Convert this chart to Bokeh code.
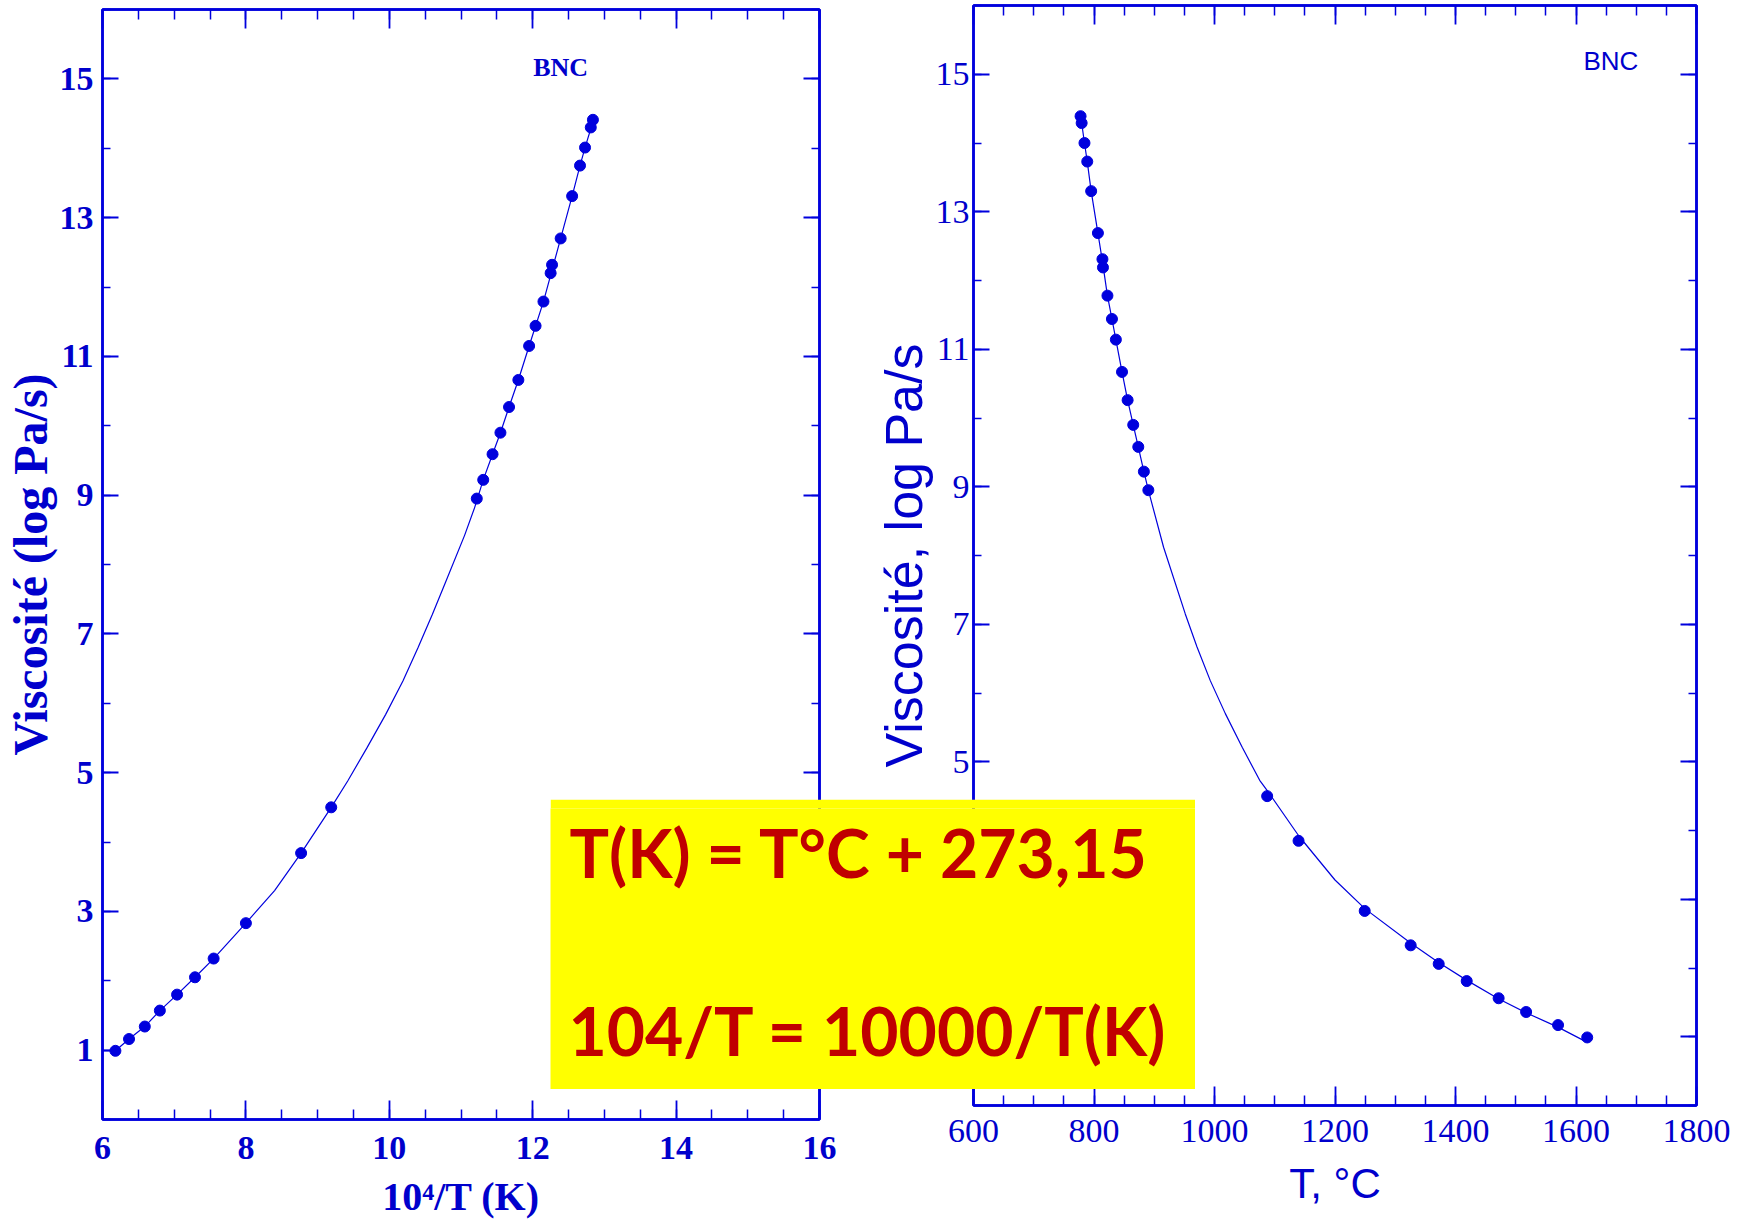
from bokeh.plotting import figure
from bokeh.models import Range1d, LinearAxis, FixedTicker, Label
from bokeh.layouts import row
from bokeh.embed import file_html
from bokeh.resources import INLINE

# ---------------- data ----------------
# left panel: 10^4/T (K) vs log viscosity
inv_t = [6.18, 6.37, 6.59, 6.80, 7.04, 7.29, 7.55, 8.00, 8.77, 9.19,
         11.22, 11.31, 11.44, 11.55, 11.67, 11.80, 11.95, 12.04, 12.15,
         12.25, 12.27, 12.39, 12.55, 12.66, 12.73, 12.81, 12.84]
visc_left = [0.99, 1.16, 1.34, 1.57, 1.80, 2.05, 2.32, 2.83, 3.84, 4.50,
             8.95, 9.22, 9.59, 9.90, 10.27, 10.66, 11.15, 11.44, 11.79,
             12.20, 12.32, 12.70, 13.31, 13.75, 14.01, 14.30, 14.41]
fit_inv_t = [6.18, 6.37, 6.59, 6.80, 7.04, 7.29, 7.55, 8.00, 8.40, 8.77,
             9.19, 9.42, 9.69, 9.95, 10.19, 10.40, 10.60, 10.79, 11.05,
             11.19, 11.31, 11.44, 11.55, 11.67, 11.80, 11.95, 12.15, 12.39,
             12.55, 12.66, 12.73, 12.86]
fit_visc_left = [0.99, 1.16, 1.34, 1.57, 1.80, 2.05, 2.32, 2.83, 3.30, 3.84,
                 4.50, 4.88, 5.36, 5.84, 6.32, 6.80, 7.28, 7.76, 8.42,
                 8.82, 9.22, 9.59, 9.90, 10.27, 10.66, 11.15, 11.79, 12.70,
                 13.31, 13.75, 14.01, 14.45]

# right panel: T, °C vs log viscosity
temp_c = [777.7, 779.5, 784.2, 788.8, 795.3, 806.5, 814.0, 814.9, 822.3,
          829.8, 836.3, 846.5, 855.8, 865.1, 873.5, 882.8, 890.2, 1087.4,
          1139.5, 1249.3, 1325.6, 1372.1, 1418.6, 1471.6, 1517.2, 1570.2, 1618.6]
visc_right = [14.39, 14.29, 14.00, 13.73, 13.30, 12.69, 12.31, 12.19, 11.78,
              11.44, 11.14, 10.67, 10.26, 9.90, 9.58, 9.22, 8.95, 4.50,
              3.85, 2.83, 2.33, 2.06, 1.81, 1.56, 1.36, 1.17, 0.99]
fit_temp_c = [777.0, 784.2, 788.8, 795.3, 806.5, 814.5, 822.3, 829.8, 836.3,
              846.5, 855.8, 865.1, 873.5, 882.8, 890.2, 915.5, 951.5, 971.0,
              993.0, 1018.0, 1046.0, 1075.0, 1090.0, 1140.0, 1200.0, 1250.0,
              1326.0, 1372.0, 1419.0, 1472.0, 1517.0, 1570.0, 1614.0]
fit_visc_right = [14.45, 14.00, 13.73, 13.30, 12.69, 12.25, 11.78, 11.44, 11.14,
                  10.67, 10.26, 9.90, 9.58, 9.22, 8.95, 8.12, 7.15, 6.67,
                  6.18, 5.70, 5.21, 4.73, 4.55, 3.92, 3.28, 2.86,
                  2.36, 2.08, 1.82, 1.55, 1.35, 1.14, 0.94]

left_x_ticks = [6, 8, 10, 12, 14, 16]
left_x_minor = [6 + 0.5 * i for i in range(21)]
y_ticks = [1, 3, 5, 7, 9, 11, 13, 15]
y_minor = list(range(0, 17))
right_x_ticks = [600, 800, 1000, 1200, 1400, 1600, 1800]
right_x_minor = list(range(600, 1801, 50))

formula_1 = "T(K) = T°C + 273,15"
formula_2 = "104/T = 10000/T(K)"

# ---------------- styling ----------------
BLUE = "#0000dd"
TXT = "#0000cc"
RED = "#c00000"
SERIF = "Liberation Serif"
SANS = "Liberation Sans"
H = 1225
TOP_B, BOTTOM_B = 9, 106   # shared top / bottom borders (Bokeh aligns them in a row)


def style_axis(ax, vertical_ticks, font, bold, tick_size, show=True):
    ax.axis_line_color = BLUE
    ax.axis_line_width = 2.5
    ax.major_tick_line_color = BLUE
    ax.minor_tick_line_color = BLUE
    ax.major_tick_line_width = 1.8
    ax.minor_tick_line_width = 1.5
    ax.major_tick_out = 0
    ax.minor_tick_out = 0
    ax.major_tick_in = 19 if vertical_ticks else 16
    ax.minor_tick_in = 10 if vertical_ticks else 8
    ax.major_label_text_font = font
    ax.major_label_text_font_style = "bold" if bold else "normal"
    ax.axis_label_text_color = TXT
    ax.axis_label_text_font = font
    ax.axis_label_text_font_style = "bold" if bold else "normal"
    if show:
        ax.major_label_text_color = TXT
        ax.major_label_text_font_size = tick_size
    else:
        ax.major_label_text_color = None
        ax.major_label_text_alpha = 0
        ax.major_label_text_font_size = "1px"
        ax.major_label_standoff = 0
        ax.axis_label = None


# ---------------- left panel ----------------
L_W = 858
L_FRAME_LEFT, L_FRAME_W = 102, 717
p1 = figure(width=L_W, height=H, x_range=Range1d(6, 16), y_range=Range1d(0, 16),
            output_backend="svg", toolbar_location=None,
            min_border_left=L_FRAME_LEFT, min_border_right=L_W - L_FRAME_LEFT - L_FRAME_W,
            min_border_top=TOP_B, min_border_bottom=BOTTOM_B)
p1.grid.visible = False
p1.outline_line_color = BLUE
p1.outline_line_width = 2.5
p1.background_fill_color = "white"
p1.border_fill_color = "white"

p1.xaxis[0].ticker = FixedTicker(ticks=left_x_ticks, minor_ticks=left_x_minor)
p1.yaxis[0].ticker = FixedTicker(ticks=y_ticks, minor_ticks=y_minor)
style_axis(p1.xaxis[0], True, SERIF, True, "34px")
style_axis(p1.yaxis[0], False, SERIF, True, "34px")
p1.xaxis[0].axis_label = "10⁴/T (K)"
p1.xaxis[0].axis_label_text_font_size = "40px"
p1.xaxis[0].major_label_standoff = 17
p1.xaxis[0].axis_label_standoff = 12
p1.yaxis[0].axis_label = "Viscosité (log Pa/s)"
p1.yaxis[0].axis_label_text_font_size = "48px"
p1.yaxis[0].major_label_standoff = 9
p1.yaxis[0].axis_label_standoff = 0

top1 = LinearAxis(ticker=FixedTicker(ticks=left_x_ticks, minor_ticks=left_x_minor))
style_axis(top1, True, SERIF, True, "0px", show=False)
p1.add_layout(top1, "above")
right1 = LinearAxis(ticker=FixedTicker(ticks=y_ticks, minor_ticks=y_minor))
style_axis(right1, False, SERIF, True, "0px", show=False)
p1.add_layout(right1, "right")

p1.line(fit_inv_t, fit_visc_left, line_color=BLUE, line_width=1.2)
p1.scatter(inv_t, visc_left, size=11, fill_color=BLUE, line_color=BLUE)
p1.add_layout(Label(x=12.39, y=15.16, text="BNC", text_align="center",
                    text_baseline="middle", text_font=SERIF, text_font_style="bold",
                    text_font_size="26px", text_color=TXT))

# ---------------- right panel ----------------
R_W = 1739 - L_W
R_FRAME_LEFT = 973 - L_W   # frame left inside this canvas
R_FRAME_W, R_FRAME_H = 723, 1100
R_SHIFT = -4               # right frame sits 4 px higher than the left one
p2 = figure(width=R_W, height=TOP_B + R_FRAME_H + BOTTOM_B,
            x_range=Range1d(600, 1800), y_range=Range1d(0, 16),
            output_backend="svg", toolbar_location=None,
            min_border_left=R_FRAME_LEFT, min_border_right=R_W - R_FRAME_LEFT - R_FRAME_W,
            min_border_top=TOP_B, min_border_bottom=BOTTOM_B)
p2.margin = (R_SHIFT, 0, 0, 0)
p2.grid.visible = False
p2.outline_line_color = BLUE
p2.outline_line_width = 2.5
p2.background_fill_color = "white"
p2.border_fill_color = "white"

p2.xaxis[0].ticker = FixedTicker(ticks=right_x_ticks, minor_ticks=right_x_minor)
p2.yaxis[0].ticker = FixedTicker(ticks=y_ticks, minor_ticks=y_minor)
style_axis(p2.xaxis[0], True, SERIF, False, "34px")
style_axis(p2.yaxis[0], False, SERIF, False, "34px")
p2.xaxis[0].axis_label = "T, °C"
p2.xaxis[0].axis_label_text_font = SANS
p2.xaxis[0].axis_label_text_font_size = "42px"
p2.xaxis[0].major_label_standoff = 14
p2.xaxis[0].axis_label_standoff = 15
p2.yaxis[0].axis_label = "Viscosité, log Pa/s"
p2.yaxis[0].axis_label_text_font = SANS
p2.yaxis[0].axis_label_text_font_size = "52px"
p2.yaxis[0].major_label_standoff = 4
p2.yaxis[0].axis_label_standoff = 0

top2 = LinearAxis(ticker=FixedTicker(ticks=right_x_ticks, minor_ticks=right_x_minor))
style_axis(top2, True, SERIF, False, "0px", show=False)
p2.add_layout(top2, "above")
right2 = LinearAxis(ticker=FixedTicker(ticks=y_ticks, minor_ticks=y_minor))
style_axis(right2, False, SERIF, False, "0px", show=False)
p2.add_layout(right2, "right")

p2.line(fit_temp_c, fit_visc_right, line_color=BLUE, line_width=1.2)
p2.scatter(temp_c, visc_right, size=11, fill_color=BLUE, line_color=BLUE)
p2.add_layout(Label(x=1658, y=15.2, text="BNC", text_align="center",
                    text_baseline="middle", text_font=SANS,
                    text_font_size="26px", text_color=TXT))

# ---------------- yellow formula box (overlaid across both panels) ----------------
BOX_LEFT, BOX_TOP, BOX_W, BOX_H = 550, 799, 645, 290
p3 = figure(frame_width=BOX_W, frame_height=BOX_H, title=None,
            x_range=Range1d(0, BOX_W), y_range=Range1d(0, BOX_H),
            output_backend="svg", toolbar_location=None,
            x_axis_location=None, y_axis_location=None,
            min_border_left=0, min_border_right=0, min_border_top=0, min_border_bottom=0)
p3.grid.visible = False
p3.outline_line_color = None
p3.background_fill_color = "#ffff00"
p3.border_fill_color = "#ffff00"
p3.margin = (BOX_TOP, 0, 0, BOX_LEFT - 1739)
p3.add_layout(Label(x=19, y=BOX_H - 44, text=formula_1, text_align="left",
                    text_baseline="alphabetic", text_font="Lato", text_font_style="bold",
                    text_font_size="66px", text_color=RED))
p3.add_layout(Label(x=18, y=BOX_H - 222, text=formula_2, text_align="left",
                    text_baseline="alphabetic", text_font="Lato", text_font_style="bold",
                    text_font_size="66px", text_color=RED))

layout = row(p1, p2, p3)
open("out.html", "w").write(file_html(layout, INLINE))
